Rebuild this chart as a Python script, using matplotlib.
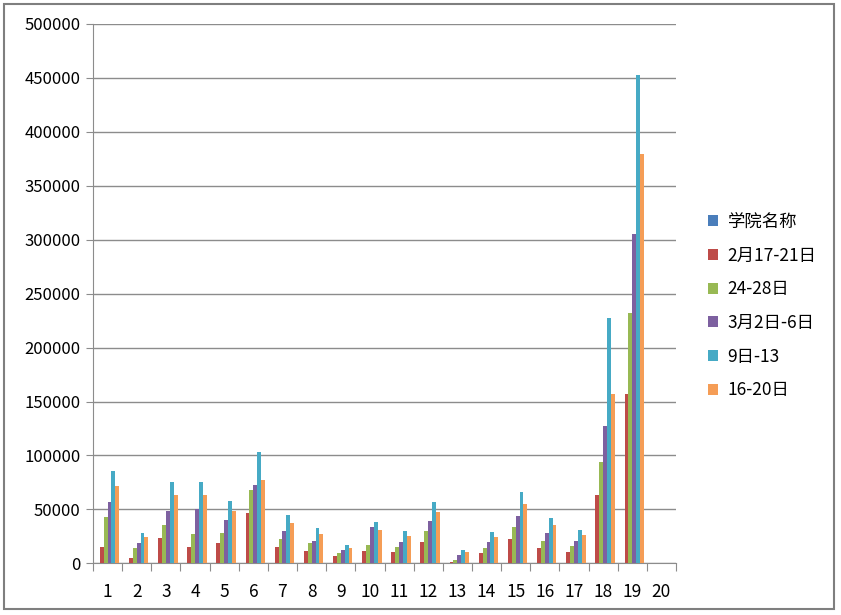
import numpy as np
import matplotlib
matplotlib.use('Agg')
from matplotlib import pyplot as plt
from matplotlib.patches import Rectangle

plt.rcParams['font.family'] = ['Noto Sans CJK SC', 'DejaVu Sans']

categories = [str(i) for i in range(1, 21)]
series_names = ['学院名称', '2月17-21日', '24-28日', '3月2日-6日', '9日-13', '16-20日']
colors = ['#4A7EBB', '#BE4B48', '#98B954', '#7D60A0', '#46AAC5', '#F59D56']

xueyuan = [0] * 20
feb17_21 = [15000, 4600, 23500, 15100, 18600, 46400, 15100, 11100, 7100, 11100,
            10200, 19500, 1200, 9600, 22900, 14500, 10200, 63700, 157400, 0]
feb24_28 = [43000, 14200, 35600, 27500, 28100, 67800, 22600, 18600, 9600, 17000,
            15100, 30000, 2800, 14500, 33400, 21000, 16100, 94100, 232300, 0]
mar2_6 = [57200, 19100, 48900, 50200, 40000, 72700, 30000, 21000, 12100, 33400,
          20100, 39300, 7700, 19500, 44200, 28400, 21000, 127500, 305400, 0]
mar9_13 = [86000, 28100, 75500, 75500, 57900, 103400, 44900, 32800, 17000, 38400,
           30000, 56700, 12100, 29100, 66500, 42400, 30900, 227600, 453000, 0]
mar16_20 = [71800, 24400, 63200, 63200, 48900, 77100, 37400, 26900, 14500, 30900,
            25100, 47400, 10200, 24400, 54800, 35900, 26000, 157400, 379400, 0]

all_series = [xueyuan, feb17_21, feb24_28, mar2_6, mar9_13, mar16_20]

fig = plt.figure(figsize=(8.41, 6.15), dpi=100)
ax = fig.add_axes([93 / 841, 1 - 563.3 / 615, (676 - 93) / 841, (563.3 - 24) / 615])

x = np.arange(1, 21)
w = 1 / 7.5
for i, (vals, name, c) in enumerate(zip(all_series, series_names, colors)):
    ax.bar(x + (i - 2.5) * w, vals, width=w, color=c, label=name, zorder=3)

ax.set_xlim(0.5, 20.5)
ax.set_ylim(0, 500000)
ax.set_yticks(np.arange(0, 500001, 50000))
ax.set_yticklabels([str(v) for v in range(0, 500001, 50000)])
ax.yaxis.grid(True, color='#8c8c8c', linewidth=1, zorder=0)

# category ticks between groups, labels centred
ax.set_xticks(np.arange(0.5, 21, 1))
ax.set_xticklabels([])
ax.set_xticks(x, minor=True)
ax.set_xticklabels(categories, minor=True)
ax.tick_params(axis='x', which='major', length=6, color='#8c8c8c', direction='out')
ax.tick_params(axis='x', which='minor', length=0, pad=14, labelsize=12.5)
ax.tick_params(axis='y', length=5, color='#8c8c8c', labelsize=12, pad=4)

for s in ['top', 'right']:
    ax.spines[s].set_visible(False)
for s in ['left', 'bottom']:
    ax.spines[s].set_color('#8c8c8c')

leg = fig.legend(loc='upper left', bbox_to_anchor=(0.823, 0.679), frameon=False,
                 fontsize=12.5, handlelength=0.6, handleheight=0.6,
                 handletextpad=0.55, labelspacing=0.9)

fig.patches.append(Rectangle((4 / 841, 1 - 609 / 615), 830 / 841, 605 / 615,
                             transform=fig.transFigure, fill=False,
                             edgecolor='#7f7f7f', linewidth=1.5))

fig.savefig('out.png', dpi=100)
